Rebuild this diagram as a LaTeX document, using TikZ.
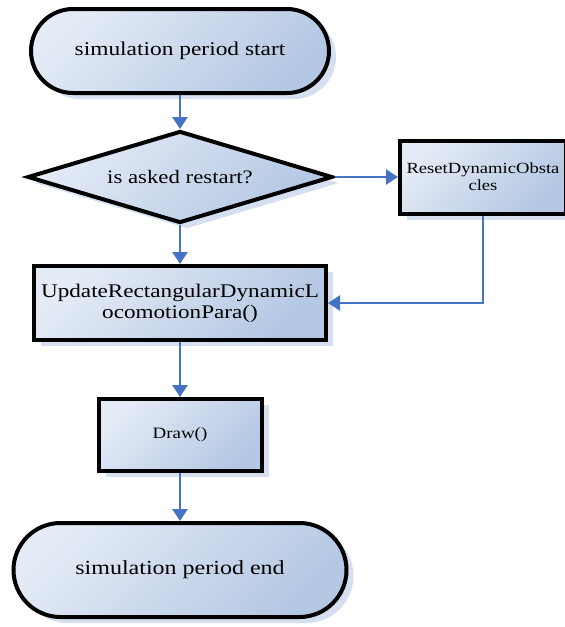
\documentclass[tikz,border=0pt]{standalone}
\usepackage{fontspec}
\setmainfont{Liberation Serif}[FakeStretch=1.2]
\usetikzlibrary{shapes.geometric,arrows.meta,shadows}
\definecolor{fillA}{HTML}{E4EBF6}
\definecolor{fillB}{HTML}{B4C7E3}
\definecolor{shad}{HTML}{D5DFEF}
\definecolor{arr}{HTML}{4472C4}
\begin{document}
\begin{tikzpicture}[x=1pt,y=-1pt,
  shape base/.style={draw=black, line width=4pt, top color=fillA, bottom color=fillB, shading angle=45,
    general shadow={fill=shad, shadow xshift=7pt, shadow yshift=-6pt},
    inner sep=0pt, align=center, text=black},
  terminal/.style={shape base, rectangle, rounded corners=#1},
  procbox/.style={shape base, rectangle},
  decision/.style={shape base, diamond},
  flow/.style={draw=arr, line width=2.4pt, -{Triangle[width=15pt,length=12pt]}}
]
\clip (0,0) rectangle (565,627);
\node[terminal=42pt, minimum width=298pt, minimum height=84pt, font=\fontsize{19.5}{22}\selectfont]
  (start) at (180,51) {simulation period start};
\node[decision, minimum width=305pt, minimum height=92pt, aspect=3.315, font=\fontsize{19}{22}\selectfont]
  (dec) at (180,177) {is asked restart?};
\node[procbox, minimum width=166pt, minimum height=73pt, font=\fontsize{15.5}{17}\selectfont]
  (reset) at (483,177) {ResetDynamicObsta\\cles};
\node[procbox, minimum width=292pt, minimum height=74pt, font=\fontsize{19.3}{21}\selectfont]
  (upd) at (180,303) {UpdateRectangularDynamicL\\ocomotionPara()};
\node[procbox, minimum width=163pt, minimum height=72pt, font=\fontsize{15.8}{18}\selectfont]
  (drawbox) at (180,435) {Draw()};
\node[terminal=47pt, minimum width=333pt, minimum height=94pt, font=\fontsize{20}{23}\selectfont]
  (finish) at (180,570) {simulation period end};
\draw[flow] (start.south) -- (dec.north);
\draw[flow] (dec.east) -- (reset.west);
\draw[flow] (dec.south) -- (upd.north);
\draw[flow] (reset.south) |- (upd.east);
\draw[flow] (upd.south) -- (drawbox.north);
\draw[flow] (drawbox.south) -- (finish.north);
\end{tikzpicture}
\end{document}
